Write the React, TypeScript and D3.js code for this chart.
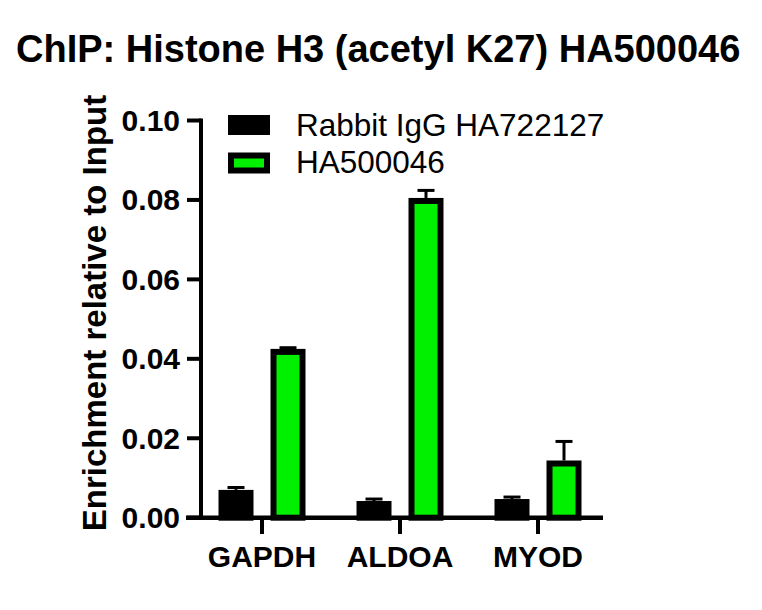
import React from "react";
import * as d3 from "d3";

const categories = ["GAPDH", "ALDOA", "MYOD"];
const seriesNames = ["Rabbit IgG HA722127", "HA500046"];
const iggValues = [0.007, 0.0042, 0.0047];
const iggErrors = [0.0006, 0.0005, 0.0005];
const haValues = [0.0425, 0.0805, 0.0144];
const haErrors = [0.0003, 0.0019, 0.0048];
const yTicks = [0, 0.02, 0.04, 0.06, 0.08, 0.1];
const title = "ChIP: Histone H3 (acetyl K27) HA500046";
const yLabel = "Enrichment relative to Input";

const FONT = "'Liberation Sans', Arial, Helvetica, sans-serif";
const W = 762;
const H = 610;
const GREEN = "#00f000";

export default function App() {
  const y = d3.scaleLinear().domain([0, 0.1]).range([517.7, 120.5]);
  const x0 = d3.scaleBand<string>().domain(categories).range([193, 607]).padding(0);
  const x1 = d3.scaleBand<string>().domain(seriesNames).range([17, 121]).padding(0);
  const barW = 35;
  const sw = 6;
  const fills = ["#000", GREEN];
  const series = [
    { name: seriesNames[0], values: iggValues, errors: iggErrors },
    { name: seriesNames[1], values: haValues, errors: haErrors },
  ];
  const axisX = 201;
  const fmt = d3.format(".2f");

  return (
    <svg
      width={W}
      height={H}
      viewBox={`0 0 ${W} ${H}`}
      style={{ position: "absolute", left: 0, top: 0, background: "#fff" }}
      fontFamily={FONT}
    >
      <rect x={0} y={0} width={W} height={H} fill="#fff" />
      <text x={16} y={62} fontSize={38} fontWeight="bold" fill="#000">
        {title}
      </text>

      {/* y axis label */}
      <text
        transform={`translate(106,313) rotate(-90)`}
        textAnchor="middle"
        fontSize={33}
        fontWeight="bold"
        fill="#000"
      >
        {yLabel}
      </text>

      {/* bars */}
      {series.map((s, si) =>
        categories.map((c, ci) => {
          const cx = (x0(c) as number) + (x1(s.name) as number) + x1.bandwidth() / 2;
          const top = y(s.values[ci]);
          const errTop = y(s.values[ci] + s.errors[ci]);
          return (
            <g key={`${si}-${ci}`}>
              <line x1={cx} x2={cx} y1={top} y2={errTop} stroke="#000" strokeWidth={3} />
              <line x1={cx - 8.5} x2={cx + 8.5} y1={errTop} y2={errTop} stroke="#000" strokeWidth={3} />
              <rect
                x={cx - barW / 2 + sw / 2}
                y={top + sw / 2}
                width={barW - sw}
                height={y(0) - top - sw / 2}
                fill={fills[si]}
                stroke="#000"
                strokeWidth={sw}
              />
            </g>
          );
        })
      )}

      {/* y axis */}
      <line x1={axisX} x2={axisX} y1={y(0.1) - 2} y2={y(0)} stroke="#000" strokeWidth={4} />
      {yTicks.map((t) => (
        <g key={t}>
          <line x1={187} x2={axisX} y1={y(t)} y2={y(t)} stroke="#000" strokeWidth={4} />
          <text
            x={180}
            y={y(t)}
            dy="0.35em"
            textAnchor="end"
            fontSize={30}
            fontWeight="bold"
            fill="#000"
          >
            {fmt(t)}
          </text>
        </g>
      ))}

      {/* x axis */}
      <line x1={186} x2={603} y1={y(0)} y2={y(0)} stroke="#000" strokeWidth={4.5} />
      {categories.map((c) => {
        const cx = (x0(c) as number) + x0.bandwidth() / 2;
        return (
          <g key={c}>
            <line x1={cx} x2={cx} y1={y(0)} y2={534} stroke="#000" strokeWidth={4} />
            <text x={cx} y={567} textAnchor="middle" fontSize={30} fontWeight="bold" fill="#000">
              {c}
            </text>
          </g>
        );
      })}

      {/* legend */}
      {seriesNames.map((n, i) => {
        const ly = 115 + i * 37.5;
        return (
          <g key={n}>
            <rect
              x={228 + (i === 0 ? 0 : 3)}
              y={ly + (i === 0 ? 0 : 3)}
              width={i === 0 ? 42 : 36}
              height={i === 0 ? 20 : 15}
              fill={fills[i]}
              stroke={i === 0 ? "none" : "#000"}
              strokeWidth={6}
            />
            <text x={296} y={ly + 20.5} fontSize={31.5} fill="#000">
              {n}
            </text>
          </g>
        );
      })}
    </svg>
  );
}
